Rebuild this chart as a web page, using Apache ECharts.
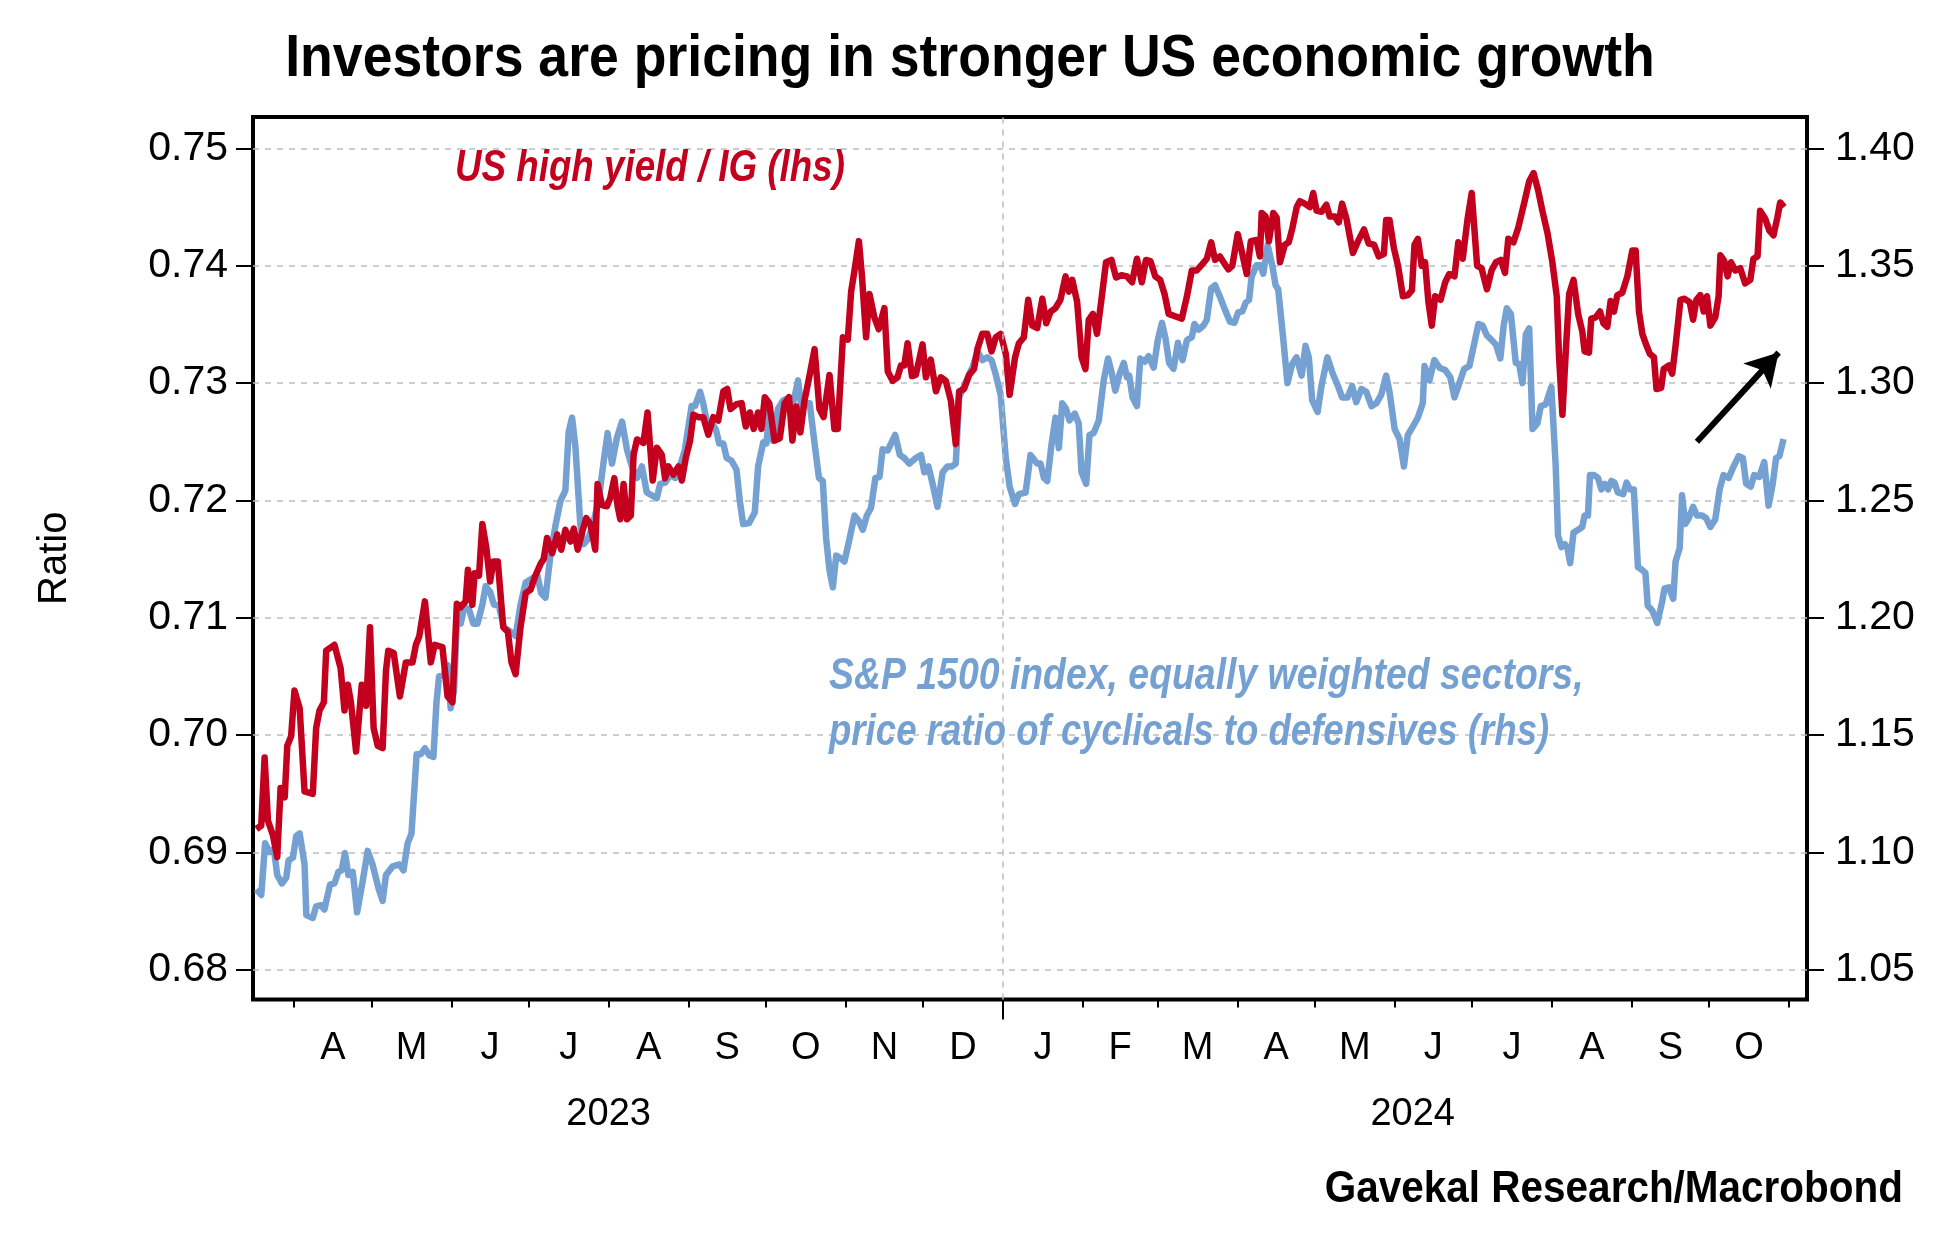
<!DOCTYPE html>
<html>
<head>
<meta charset="utf-8">
<script src="https://cdn.jsdelivr.net/npm/echarts@6/dist/echarts.min.js"></script>
<style>
html,body{margin:0;padding:0;background:#ffffff;}
#chart{width:1937px;height:1250px;}
</style>
</head>
<body>
<div id="chart"></div>
<script>
// ---------- DATA ----------
// x values are days counted from BASE_DATE (2023-04-01)
const BASE_DATE = '2023-04-01';
const AXIS_START_DATE = '2023-03-16';
const AXIS_END_DATE = '2024-11-08';
const monthStarts = ['2023-04-01','2023-05-01','2023-06-01','2023-07-01','2023-08-01','2023-09-01','2023-10-01','2023-11-01','2023-12-01','2024-01-01','2024-02-01','2024-03-01','2024-04-01','2024-05-01','2024-06-01','2024-07-01','2024-08-01','2024-09-01','2024-10-01','2024-11-01'];
const monthLabels = ['A','M','J','J','A','S','O','N','D','J','F','M','A','M','J','J','A','S','O'];
const yearLabels = ['2023','2024'];
const yearLabelDates = ['2023-08-01','2024-06-08'];
const yearBoundary = '2024-01-01';
const lhsTicks = [0.68,0.69,0.70,0.71,0.72,0.73,0.74,0.75];
const rhsTicks = [1.05,1.10,1.15,1.20,1.25,1.30,1.35,1.40];
const lhsRange = [0.67747, 0.75268];
const rhsRange = [1.03735, 1.4134];

// US high yield / IG ratio (lhs)
const hyIG = [[-14.7,.6920],[-12.8,.6923],[-11.5,.6981],[-10.2,.6927],[-8.3,.6915],[-6.6,.6896],[-5.3,.6955],[-3.7,.6947],[-2.7,.6991],[-1.2,.6999],[0.1,.7038],[2.1,.7023],[4.0,.6952],[7.2,.6950],[8.5,.7006],[9.8,.7021],[11.5,.7028],[12.4,.7072],[15.6,.7077],[18.0,.7057],[19.5,.7021],[20.8,.7043],[22.0,.7028],[24.0,.6986],[26.2,.7043],[27.9,.7025],[29.4,.7092],[30.8,.7006],[32.4,.6991],[34.3,.6989],[35.6,.7055],[36.5,.7072],[38.6,.7070],[41.0,.7033],[43.3,.7062],[45.9,.7062],[47.2,.7077],[48.5,.7084],[50.7,.7114],[53.0,.7062],[54.5,.7077],[57.5,.7075],[59.5,.7033],[61.4,.7028],[63.1,.7112],[64.6,.7109],[66.5,.7114],[67.4,.7141],[69.1,.7111],[70.0,.7138],[71.7,.7136],[73.0,.7180],[74.5,.7160],[76.0,.7131],[77.3,.7148],[79.0,.7148],[81.1,.7092],[82.9,.7088],[84.3,.7062],[85.9,.7052],[87.8,.7092],[89.8,.7121],[91.7,.7124],[93.6,.7136],[95.6,.7146],[96.8,.7150],[98.1,.7168],[100.1,.7155],[102,.7171],[103.6,.7158],[105.2,.7175],[107.2,.7165],[108.5,.7176],[110,.7158],[111.7,.7173],[113.3,.7185],[114.9,.7180],[116.8,.7158],[117.7,.7214],[119.4,.7196],[121.3,.7195],[122.6,.7202],[124.2,.7219],[125.5,.7195],[126.5,.7184],[127.8,.7214],[129.1,.7184],[130.6,.7187],[131.7,.7239],[133,.7252],[135.5,.7249],[137.1,.7275],[139.1,.7217],[140.7,.7245],[142.6,.7239],[143.9,.7219],[145.2,.7229],[147.1,.7222],[149.1,.7229],[150.4,.7217],[152.0,.7237],[153.6,.7251],[154.9,.7273],[156.8,.7271],[158.7,.7271],[160.7,.7256],[162.6,.7271],[164.5,.7268],[166.5,.7293],[168,.7295],[169.3,.7278],[171.6,.7282],[173.6,.7283],[175.2,.7263],[176.8,.7275],[178.3,.7261],[180,.7275],[181.3,.7261],[182.6,.7288],[184.3,.7283],[186.4,.7251],[188.4,.7253],[190.3,.7283],[192,.7288],[193.3,.7251],[194.8,.7280],[196.4,.7258],[198,.7285],[200,.7307],[201.9,.7329],[203.8,.7278],[205.4,.7271],[207.7,.7307],[209.6,.7261],[210.9,.7261],[212.9,.7339],[214.8,.7337],[216.1,.7378],[217.4,.7396],[219.1,.7421],[220.3,.7391],[221.9,.7339],[223.2,.7376],[225.1,.7356],[226.8,.7346],[229,.7364],[230.3,.7310],[232.2,.7302],[234.1,.7305],[235.4,.7315],[236.7,.7315],[238,.7334],[239.7,.7306],[241.2,.7307],[243.8,.7333],[245.1,.7305],[247,.7320],[249,.7293],[250.9,.7305],[252.8,.7302],[254.8,.7285],[256.7,.7248],[258,.7293],[259.9,.7295],[261.9,.7307],[263.8,.7312],[265.1,.7329],[267,.7342],[268.9,.7342],[270.6,.7327],[272.2,.7339],[274.1,.7342],[276.1,.7325],[277.6,.7290],[279.7,.7322],[281.2,.7334],[283.1,.7339],[284.8,.7371],[286.4,.7349],[288.3,.7347],[290.3,.7372],[291.8,.7351],[293.5,.7361],[295.4,.7364],[297.3,.7371],[299.3,.7391],[300.6,.7378],[301.9,.7388],[303.8,.7369],[305.5,.7322],[307,.7312],[308.3,.7354],[309.9,.7359],[311.5,.7342],[313.2,.7371],[315,.7403],[317.1,.7405],[318.9,.7390],[321,.7392],[323.1,.7391],[325.1,.7386],[327,.7406],[328.9,.7386],[330.5,.7405],[332.2,.7404],[334.1,.7391],[336,.7388],[337.7,.7376],[339.3,.7359],[341.8,.7357],[344.4,.7355],[346.4,.7374],[348.3,.7396],[350.2,.7396],[352.2,.7401],[354.1,.7406],[355.8,.7420],[357.3,.7405],[359.2,.7408],[361.2,.7401],[362.5,.7397],[364,.7400],[366.1,.7427],[367.6,.7413],[369.6,.7393],[371.2,.7421],[373.4,.7422],[374.7,.7408],[375.4,.7445],[376.9,.7442],[378.2,.7421],[379.9,.7445],[381.2,.7441],[382.5,.7403],[384.4,.7418],[385.9,.7420],[387.3,.7432],[389,.7450],[390.2,.7455],[392.1,.7453],[394.1,.7450],[395.4,.7462],[396.7,.7447],[398.6,.7446],[400.5,.7452],[401.8,.7442],[403.8,.7442],[405.3,.7437],[406.6,.7453],[408.3,.7440],[410.8,.7411],[412.8,.7421],[415.1,.7431],[416.9,.7419],[419,.7418],[420.8,.7408],[422.8,.7410],[423.7,.7439],[425,.7439],[426.7,.7415],[428.3,.7400],[430.2,.7374],[432.1,.7375],[433.7,.7379],[434.7,.7418],[436,.7423],[437.5,.7400],[438.8,.7403],[440.1,.7369],[441.4,.7349],[442.7,.7374],[444.8,.7371],[446.6,.7386],[448.2,.7393],[450.2,.7391],[451.7,.7420],[453.4,.7406],[455.3,.7440],[456.9,.7462],[459,.7400],[460.7,.7398],[462.8,.7380],[464.6,.7396],[466.3,.7403],[468.2,.7405],[469.8,.7394],[471.1,.7423],[473.1,.7420],[474.9,.7432],[477.3,.7454],[479.2,.7472],[480.9,.7479],[482.7,.7464],[484.3,.7447],[486.3,.7428],[488.2,.7403],[489.9,.7374],[490.8,.7322],[492.1,.7273],[493.4,.7327],[494.7,.7376],[496.4,.7388],[498.2,.7359],[499.8,.7344],[500.7,.7327],[502.4,.7326],[503.3,.7355],[505,.7356],[506.7,.7361],[508,.7351],[509.5,.7348],[510.8,.7370],[512.1,.7361],[513.4,.7375],[515.3,.7377],[517.3,.7391],[519.2,.7413],[520.5,.7413],[521.8,.7361],[523.1,.7342],[524.7,.7332],[526,.7325],[527.6,.7322],[528.6,.7295],[530.4,.7296],[531.4,.7312],[533.4,.7315],[534.7,.7308],[536,.7332],[537.9,.7371],[539.4,.7372],[541.5,.7369],[542.8,.7354],[544.1,.7371],[545.6,.7375],[546.9,.7361],[548.2,.7374],[549.5,.7349],[551.4,.7356],[552.7,.7374],[553.4,.7409],[554.9,.7404],[556.2,.7391],[557.5,.7403],[559.2,.7396],[561.1,.7398],[563,.7385],[565,.7388],[566.2,.7406],[567.8,.7408],[568.8,.7447],[570.8,.7440],[572.4,.7430],[574,.7426],[575.5,.7441],[576.6,.7454],[578.1,.7450]];

// S&P 1500 cyclicals / defensives price ratio (rhs)
const spCycDef = [[-14.7,1.0843],[-12.8,1.0819],[-11.3,1.1039],[-9.6,1.1002],[-7.9,1.1015],[-6.6,1.0904],[-4.8,1.0868],[-3.1,1.0892],[-2.2,1.0966],[-0.5,1.0978],[0.8,1.1071],[2.1,1.1081],[4.0,1.0950],[4.7,1.0733],[7.2,1.0721],[8.5,1.0770],[10.4,1.0775],[11.7,1.0757],[13.9,1.0863],[15.6,1.0868],[17.1,1.0917],[18.4,1.0924],[19.7,1.0998],[21.0,1.0904],[22.7,1.0917],[24.4,1.0745],[26.6,1.0880],[28.5,1.1007],[30.4,1.0949],[32.8,1.0843],[34.3,1.0794],[35.6,1.0904],[38.2,1.0941],[40.8,1.0949],[42.4,1.0924],[44.0,1.1039],[45.5,1.1081],[47.5,1.1419],[49.1,1.1419],[50.7,1.1444],[52.4,1.1414],[54.0,1.1407],[55.2,1.1640],[56.2,1.1750],[57.9,1.1755],[59.5,1.1799],[60.7,1.1615],[62.0,1.1689],[63.1,1.1983],[64.6,1.1975],[65.9,1.2044],[67.8,1.2037],[69.5,1.1975],[71.1,1.1975],[73.0,1.2056],[74.3,1.2135],[76.0,1.2110],[77.5,1.2056],[79.4,1.2051],[81.4,1.1958],[83.3,1.1946],[85.9,1.1922],[87.8,1.2056],[89.8,1.2150],[92.3,1.2167],[94.3,1.2184],[95.8,1.2105],[97.5,1.2086],[99.4,1.2265],[101.4,1.2395],[103.3,1.2498],[105.2,1.2542],[106.5,1.2792],[107.8,1.2853],[109.1,1.2730],[111,1.2400],[112.3,1.2314],[114.2,1.2338],[116.2,1.2412],[118.1,1.2498],[120.1,1.2669],[121.6,1.2787],[123.3,1.2657],[125.2,1.2767],[127.2,1.2836],[129.1,1.2718],[131,1.2645],[133,1.2596],[134.9,1.2645],[136.8,1.2534],[138.8,1.2522],[140.7,1.2510],[142,1.2571],[143.9,1.2576],[145.8,1.2608],[147.8,1.2596],[149.7,1.2645],[151.6,1.2718],[154.2,1.2902],[155.5,1.2902],[157.5,1.2963],[158.7,1.2914],[160,1.2841],[162,1.2828],[163.6,1.2804],[164.9,1.2743],[166.5,1.2743],[167.8,1.2681],[169.7,1.2669],[171.6,1.2632],[172.9,1.2498],[174.2,1.2400],[176.5,1.2404],[178.7,1.2449],[180,1.2645],[182,1.2748],[183.2,1.2743],[184.5,1.2895],[185.8,1.2755],[187.7,1.2890],[189.7,1.2926],[191.2,1.2934],[192.5,1.2877],[194.2,1.2944],[195.5,1.3012],[196.7,1.2902],[198.7,1.2914],[200,1.2914],[201.9,1.2743],[203.6,1.2596],[205.1,1.2583],[206.4,1.2338],[207.7,1.2203],[209,1.2130],[210.3,1.2265],[211.6,1.2257],[213.5,1.2240],[215.5,1.2338],[217.4,1.2436],[219.1,1.2412],[220.6,1.2375],[222.2,1.2436],[223.8,1.2468],[225.5,1.2596],[227.1,1.2600],[228.3,1.2718],[230.3,1.2713],[231.6,1.2743],[233.2,1.2779],[235,1.2694],[236.7,1.2681],[238.7,1.2657],[241.2,1.2681],[243.2,1.2694],[244.5,1.2620],[246.1,1.2645],[247.7,1.2571],[249.6,1.2473],[251.6,1.2620],[253.5,1.2645],[255.2,1.2645],[256.7,1.2657],[258,1.2939],[259.9,1.2988],[261.9,1.3037],[263.4,1.3073],[265.1,1.3135],[267,1.3098],[268.9,1.3110],[270.6,1.3098],[272.2,1.3037],[274.1,1.2951],[276.1,1.2681],[277.6,1.2559],[279.7,1.2485],[281.2,1.2527],[283.8,1.2534],[285.7,1.2694],[288.3,1.2657],[289.6,1.2657],[290.9,1.2596],[292.2,1.2583],[293.9,1.2743],[295.4,1.2853],[296.7,1.2723],[298,1.2914],[299.5,1.2890],[300.8,1.2841],[302.9,1.2870],[304.4,1.2828],[305.5,1.2620],[307.3,1.2571],[308.6,1.2779],[310.2,1.2787],[312.2,1.2841],[314.1,1.3012],[315.8,1.3105],[317.1,1.3049],[318.6,1.2968],[320.2,1.3037],[321.9,1.3086],[323.1,1.3025],[324.0,1.3032],[325.3,1.2939],[327,1.2902],[328.3,1.3105],[330,1.3091],[331.5,1.3115],[333.5,1.3066],[335.1,1.3184],[336.7,1.3257],[338,1.3196],[339.5,1.3086],[341.2,1.3061],[342.9,1.3172],[344.7,1.3098],[346.4,1.3184],[348.3,1.3196],[349.3,1.3252],[350.9,1.3228],[352.8,1.3245],[354.1,1.3270],[355.8,1.3404],[357.3,1.3417],[359.2,1.3368],[361.2,1.3311],[363.1,1.3262],[364.8,1.3257],[366.3,1.3301],[367.9,1.3306],[369.2,1.3343],[370.5,1.3355],[371.5,1.3453],[373.4,1.3502],[375,1.3502],[376,1.3466],[377.7,1.3588],[379.5,1.3502],[380.8,1.3417],[381.8,1.3400],[383.7,1.3196],[385.4,1.3000],[387.2,1.3080],[388.9,1.3110],[390.9,1.3032],[392.4,1.3159],[393.7,1.3110],[395,1.2926],[397.1,1.2877],[398.6,1.2988],[400.9,1.3110],[403.1,1.3037],[405,1.2988],[406.6,1.2939],[408.7,1.2939],[410.5,1.2988],[412.1,1.2919],[414.1,1.2975],[416,1.2963],[418,1.2902],[419.9,1.2914],[421.8,1.2951],[423.7,1.3032],[425,1.2963],[427,1.2804],[428.9,1.2762],[430.6,1.2645],[432.1,1.2779],[434.1,1.2816],[436,1.2853],[437.9,1.2914],[438.6,1.3073],[440.5,1.3012],[442.4,1.3098],[444.4,1.3066],[446.6,1.3056],[448.6,1.3025],[450.2,1.2939],[452.1,1.3000],[454,1.3061],[456,1.3073],[457.7,1.3159],[459.5,1.3252],[461.1,1.3245],[462.8,1.3203],[464.6,1.3184],[466.3,1.3164],[468,1.3105],[469.3,1.3245],[470.5,1.3319],[472.1,1.3294],[474,1.3086],[475.3,1.3081],[476.6,1.3000],[477.9,1.3208],[479.2,1.3233],[480.5,1.2804],[482.4,1.2828],[483.7,1.2902],[485.6,1.2909],[487.8,1.2983],[488.4,1.2975],[489.5,1.2645],[490.4,1.2350],[491.7,1.2301],[493,1.2314],[494,1.2301],[495.1,1.2233],[496.4,1.2363],[498.2,1.2375],[499.8,1.2387],[500.7,1.2436],[502,1.2436],[502.8,1.2608],[504.4,1.2608],[505.9,1.2596],[507.2,1.2547],[508.5,1.2571],[509.8,1.2547],[511.1,1.2583],[512.3,1.2576],[513.6,1.2534],[515.7,1.2527],[517,1.2576],[518.3,1.2547],[519.8,1.2547],[521.4,1.2216],[523.1,1.2203],[524.3,1.2191],[525.2,1.2051],[526.9,1.2032],[528.9,1.1978],[530.8,1.2069],[531.7,1.2125],[533.4,1.2130],[535.1,1.2081],[536,1.2240],[537.6,1.2297],[538.5,1.2522],[539.8,1.2400],[541.1,1.2424],[542.8,1.2473],[544.3,1.2436],[546.3,1.2436],[547.9,1.2424],[549.5,1.2387],[551.4,1.2419],[553.1,1.2547],[554.6,1.2608],[556.6,1.2596],[558.5,1.2645],[560.5,1.2689],[562.1,1.2681],[563.4,1.2571],[565.2,1.2559],[566.5,1.2608],[568.5,1.2600],[570.4,1.2664],[572.1,1.2478],[573.7,1.2571],[575,1.2681],[576.3,1.2689],[577.9,1.2762]];

// annotation arrow (day, lhs value)
const arrowFrom = [544.3, 0.7250];
const arrowTo = [576.0, 0.7326];

// ---------- HELPERS ----------
const DAY = 86400000;
function dayOf(s) {
  const p = s.split('-').map(Number);
  const b = BASE_DATE.split('-').map(Number);
  return (Date.UTC(p[0], p[1]-1, p[2]) - Date.UTC(b[0], b[1]-1, b[2])) / DAY;
}
const xMin = dayOf(AXIS_START_DATE);
const xMax = dayOf(AXIS_END_DATE);
const monthStartDays = monthStarts.map(dayOf);
const monthMidDays = monthLabels.map((_, i) => (monthStartDays[i] + monthStartDays[i+1]) / 2);
const yearLabelDays = yearLabelDates.map(dayOf);

const RED = '#C3001E';
const BLUE = '#74A0D2';
const SANS = '"Liberation Sans", Arial, sans-serif';

function label(text, x, y, align, font, fill, sx) {
  return {type: 'text', z: 10, x: x, y: y, scaleX: sx, scaleY: 1,
    style: {text: text, x: 0, y: 0, align: align, verticalAlign: 'middle', font: font, fill: fill}};
}

const chart = echarts.init(document.getElementById('chart'), null, {renderer: 'canvas'});

const option = {
  animation: false,
  backgroundColor: '#ffffff',
  grid: {
    left: 253, right: 130, top: 117, bottom: 250.5,
    show: true, borderColor: '#000', borderWidth: 4, backgroundColor: 'transparent'
  },
  xAxis: [
    {
      type: 'value', min: xMin, max: xMax, position: 'bottom',
      axisLine: {show: false, onZero: false},
      axisTick: {show: true, inside: false, customValues: monthStartDays, length: 8, lineStyle: {color: '#000', width: 2}},
      axisLabel: {
        show: true, customValues: monthMidDays, margin: 30,
        fontFamily: SANS, fontSize: 38, color: '#000',
        formatter: (v) => { const i = monthMidDays.indexOf(v); return i >= 0 ? monthLabels[i] : ''; }
      },
      splitLine: {show: false}
    },
    {
      type: 'value', min: xMin, max: xMax, position: 'bottom',
      axisLine: {show: false, onZero: false},
      axisTick: {show: true, inside: false, customValues: [dayOf(yearBoundary)], length: 20, lineStyle: {color: '#000', width: 2}},
      axisLabel: {
        show: true, customValues: yearLabelDays, margin: 96,
        fontFamily: SANS, fontSize: 38, color: '#000',
        formatter: (v) => { const i = yearLabelDays.indexOf(v); return i >= 0 ? yearLabels[i] : ''; }
      },
      splitLine: {show: false}
    }
  ],
  yAxis: [
    {
      type: 'value', position: 'left', min: lhsRange[0], max: lhsRange[1],
      minInterval: 0.01, maxInterval: 0.01,
      name: 'Ratio', nameLocation: 'middle', nameGap: 178, nameRotate: 90,
      nameTextStyle: {fontFamily: SANS, fontSize: 40, color: '#000'},
      axisLine: {show: false, onZero: false},
      axisTick: {show: true, inside: false, customValues: lhsTicks, length: 17, lineStyle: {color: '#000', width: 2}},
      axisLabel: {show: true, customValues: lhsTicks, margin: 25, fontFamily: SANS, fontSize: 41, color: '#000',
        formatter: (v) => v.toFixed(2)},
      splitLine: {show: true, lineStyle: {color: '#bdbdbd', width: 1.5, type: [6, 6]}}
    },
    {
      type: 'value', position: 'right', min: rhsRange[0], max: rhsRange[1],
      minInterval: 0.05, maxInterval: 0.05,
      axisLine: {show: false, onZero: false},
      axisTick: {show: true, inside: false, customValues: rhsTicks, length: 17, lineStyle: {color: '#000', width: 2}},
      axisLabel: {show: true, customValues: rhsTicks, margin: 28, fontFamily: SANS, fontSize: 41, color: '#000',
        formatter: (v) => v.toFixed(2)},
      splitLine: {show: false}
    }
  ],
  series: [
    {
      name: 'S&P 1500 cyclicals / defensives',
      type: 'line', xAxisIndex: 0, yAxisIndex: 1,
      data: spCycDef, showSymbol: false, symbol: 'none', z: 3,
      lineStyle: {color: BLUE, width: 6.5, join: 'round'},
      emphasis: {disabled: true},
      markLine: {
        silent: true, symbol: ['none', 'none'], animation: false,
        label: {show: false},
        lineStyle: {color: '#bdbdbd', width: 1.5, type: [6, 6]},
        data: [{xAxis: dayOf(yearBoundary)}]
      }
    },
    {
      name: 'US high yield / IG',
      type: 'line', xAxisIndex: 0, yAxisIndex: 0,
      data: hyIG, showSymbol: false, symbol: 'none', z: 4,
      lineStyle: {color: RED, width: 6.5, join: 'round'},
      emphasis: {disabled: true},
      markLine: {
        silent: true, animation: false,
        symbol: ['none', 'arrow'], symbolSize: [28, 32],
        label: {show: false},
        lineStyle: {color: '#000', width: 6, type: 'solid'},
        data: [[{coord: arrowFrom}, {coord: arrowTo}]]
      }
    }
  ],
  graphic: [
    label('Investors are pricing in stronger US economic growth', 970, 59, 'center', 'bold 60px ' + SANS, '#000', 0.893),
    label('US high yield / IG (lhs)', 455, 169, 'left', 'italic bold 44px ' + SANS, RED, 0.835),
    label('S&P 1500 index, equally weighted sectors,', 829, 677, 'left', 'italic bold 44px ' + SANS, BLUE, 0.85),
    label('price ratio of cyclicals to defensives (rhs)', 829, 733, 'left', 'italic bold 44px ' + SANS, BLUE, 0.832),
    label('Gavekal Research/Macrobond', 1903, 1190, 'right', 'bold 44px ' + SANS, '#000', 0.92)
  ]
};
chart.setOption(option);
</script>
</body>
</html>
